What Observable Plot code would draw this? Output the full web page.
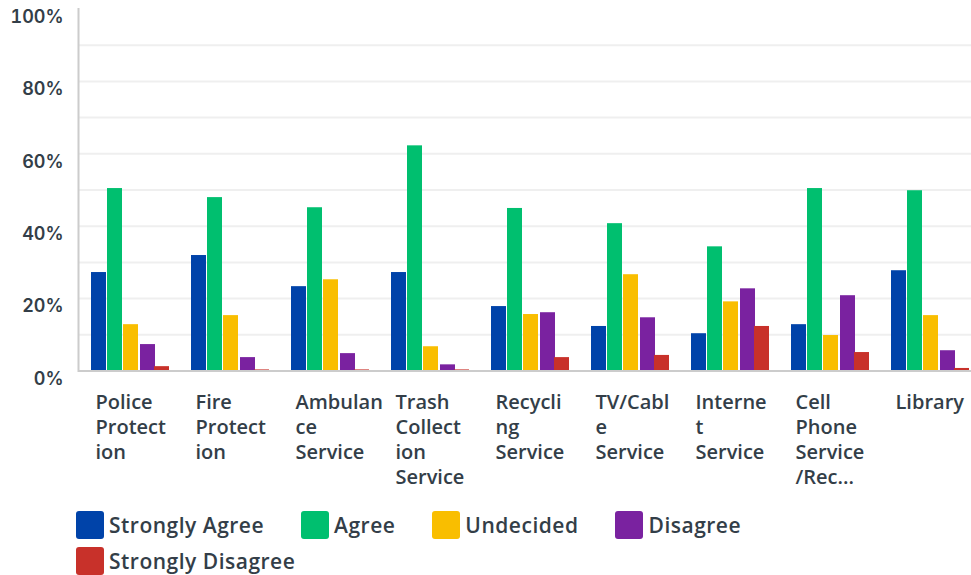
<!DOCTYPE html>
<html>
<head>
<meta charset="utf-8">
<script src="https://cdn.jsdelivr.net/npm/d3@7"></script>
<script src="https://cdn.jsdelivr.net/npm/@observablehq/plot@0.6"></script>
<style>
  body { margin: 0; background: #fff; }
  #chart svg { display: block; }
  .legend { display: flex; flex-wrap: wrap; width: 700px; padding-left: 76px; margin-top: 11px; column-gap: 37px; row-gap: 8px;
    font-family: "Open Sans", sans-serif; font-weight: 600; font-size: 21px; letter-spacing: 0.5px; color: #333e48; }
  .item { display: flex; align-items: center; height: 28px; }
  .sw { width: 28px; height: 28px; border-radius: 3px; margin-right: 5px; }
</style>
</head>
<body>
<div id="chart"></div>
<div class="legend" id="legend"></div>
<script>
const categories = ["Police Protection","Fire Protection","Ambulance Service","Trash Collection Service","Recycling Service","TV/Cable Service","Internet Service","Cell Phone Service/Reception","Library"];
const tickLabels = ["Police\nProtect\nion","Fire\nProtect\nion","Ambulan\nce\nService","Trash\nCollect\nion\nService","Recycli\nng\nService","TV/Cabl\ne\nService","Interne\nt\nService","Cell\nPhone\nService\n/Rec...","Library"];
const series = ["Strongly Agree","Agree","Undecided","Disagree","Strongly Disagree"];
const colors = ["#0043A9","#00BF6F","#F9BE00","#7A22A0","#C8312A"];
const stronglyAgree = [27.2,31.9,23.3,27.2,17.8,12.3,10.3,12.8,27.7];
const agree = [50.4,47.9,45.1,62.2,44.9,40.7,34.3,50.4,49.8];
const undecided = [12.8,15.3,25.2,6.7,15.6,26.6,19.1,9.8,15.3];
const disagree = [7.3,3.7,4.8,1.7,16.1,14.7,22.7,20.8,5.6];
const stronglyDisagree = [1.2,0.3,0.3,0.3,3.7,4.3,12.3,5.1,0.7];
const yTicks = [0,20,40,60,80,100];
const gridValues = [10,20,30,40,50,60,70,80,90];

const valueSets = [stronglyAgree, agree, undecided, disagree, stronglyDisagree];
const data = [];
series.forEach((s, i) => categories.forEach((c, j) => data.push({category: c, series: s, value: valueSets[i][j]})));

const bandW = 78, barW = 15;
const offsets = [0, 16, 32, 49, 63];
const labelOf = new Map(categories.map((c, i) => [c, tickLabels[i]]));

const chart = Plot.plot({
  width: 971,
  height: 500,
  marginLeft: 78,
  marginRight: 0,
  marginTop: 8.5,
  marginBottom: 129.5,
  x: {domain: categories, range: [89, 971.2], paddingInner: 22.4 / 100.4, paddingOuter: 0},
  y: {domain: [0, 100]},
  color: {domain: series, range: colors},
  marks: [
    Plot.ruleY(gridValues, {stroke: "#efefef", strokeWidth: 2}),
    ...series.map((s, i) => Plot.barY(data.filter(d => d.series === s), {
      x: "category", y: "value", fill: "series",
      insetLeft: offsets[i], insetRight: bandW - offsets[i] - barW
    })),
    Plot.ruleY([0], {stroke: "#cccccc", strokeWidth: 2}),
    Plot.frame({anchor: "left", stroke: "#cccccc", strokeWidth: 2}),
    Plot.axisY({ticks: yTicks, tickFormat: d => d + "%", tickSize: 0, tickPadding: 15, dy: 8,
      label: null, fontSize: 18, fontWeight: 600, fontFamily: "Inter", fill: "#333e48"}),
    Plot.axisX({tickSize: 0, tickPadding: 0, tickFormat: d => labelOf.get(d), textAnchor: "start",
      lineAnchor: "top", dx: -35, dy: 20, lineHeight: 1.25, label: null,
      fontSize: 20, fontWeight: 600, fontFamily: "Open Sans", fill: "#333e48"})
  ]
});
document.getElementById("chart").appendChild(chart);

const legend = document.getElementById("legend");
series.forEach((s, i) => {
  const it = document.createElement("div");
  it.className = "item";
  it.innerHTML = `<span class="sw" style="background:${colors[i]}"></span><span>${s}</span>`;
  legend.appendChild(it);
});
</script>
</body>
</html>
